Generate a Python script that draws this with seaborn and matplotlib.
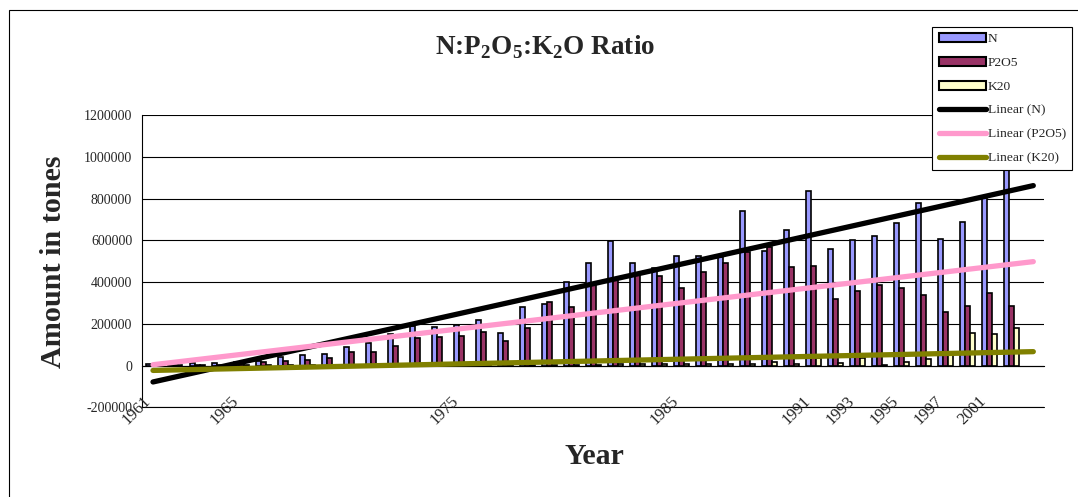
import numpy as np
import pandas as pd
import matplotlib
matplotlib.use("Agg")
import matplotlib.pyplot as plt
import seaborn as sns
from matplotlib.patches import Patch, Rectangle
from matplotlib.lines import Line2D

# Category labels along the year axis (blank where the sheet had no label)
tick_labels = ["1961", "", "", "", "1965", "", "", "", "", "",
               "", "", "", "", "1975", "", "", "", "", "",
               "", "", "", "", "1985", "", "", "", "", "",
               "1991", "", "1993", "", "1995", "", "1997", "", "2001", "",
               ""]

# Fertilizer consumption in tones
n_values = [6000, 4000, 11000, 14000, 15000, 24000, 42000, 49000, 57000, 90000,
            107000, 150000, 190000, 187000, 193000, 219000, 158000, 280000, 296000, 399000,
            490000, 599000, 490000, 466000, 527000, 527000, 522000, 738000, 550000, 650000,
            834000, 559000, 602000, 621000, 682000, 778000, 607000, 690000, 802000, 980000,
            np.nan]
p2o5_values = [2000, 2000, 5000, 5000, 7000, 19000, 23000, 27000, 35000, 66000,
               65000, 93000, 131000, 139000, 144000, 163000, 118000, 179000, 307000, 280000,
               387000, 410000, 434000, 431000, 374000, 446000, 490000, 546000, 566000, 471000,
               479000, 320000, 358000, 387000, 374000, 336000, 259000, 286000, 347000, 287000,
               np.nan]
k20_values = [1000, 1000, 1500, 1500, 2000, 2000, 2500, 2500, 3000, 3000,
              3000, 3500, 3500, 4000, 4000, 4000, 3000, 4000, 5000, 5000,
              5000, 6000, 6000, 7000, 6000, 8000, 7000, 8000, 17000, 10000,
              35000, 12000, 38000, 4000, 19000, 34000, 67000, 158000, 150000, 179000,
              np.nan]

series_names = ["N", "P2O5", "K20"]
bar_colors = ["#9999FF", "#993366", "#FFFFCC"]
trend_colors = ["#000000", "#FF99CC", "#808000"]

sns.set_theme(style="white")
plt.rcParams["font.family"] = ["Liberation Serif", "DejaVu Serif"]
plt.rcParams["mathtext.fontset"] = "custom"
plt.rcParams["mathtext.rm"] = "Liberation Serif"
plt.rcParams["mathtext.bf"] = "Liberation Serif:bold"

W, H = 1078, 497
fig = plt.figure(figsize=(W / 100, H / 100), dpi=100)
fig.patch.set_facecolor("white")
ax = fig.add_axes([142 / W, 1 - 407.4 / H, 902.3 / W, 292.4 / H])

positions = np.arange(len(tick_labels))
df = pd.DataFrame({"pos": positions, "N": n_values, "P2O5": p2o5_values, "K20": k20_values})
long_df = df.melt(id_vars="pos", var_name="series", value_name="value")

sns.barplot(data=long_df, x="pos", y="value", hue="series", order=list(positions),
            hue_order=series_names, palette=bar_colors, saturation=1, width=0.68, gap=0,
            edgecolor="black", linewidth=1.2, errorbar=None, legend=False, ax=ax, zorder=3)

# Linear trend lines fitted to each series
for vals, color in zip([n_values, p2o5_values, k20_values], trend_colors):
    vals = np.asarray(vals, dtype=float)
    ok = ~np.isnan(vals)
    coef = np.polyfit(positions[ok], vals[ok], 1)
    ax.plot(positions, np.polyval(coef, positions), color=color, lw=3.8,
            solid_capstyle="round", zorder=4)

ymin, ymax = -200000, 1200000
ax.set_xlim(-0.5, len(positions) - 0.5)
ax.set_ylim(ymin, ymax)
yticks = list(range(ymin, ymax + 1, 200000))
ax.set_yticks(yticks)
ax.set_yticklabels([str(v) for v in yticks], fontsize=10)
ax.yaxis.grid(True, color="black", lw=0.8)
ax.axhline(ymin, color="black", lw=0.8, clip_on=False, zorder=1)
ax.set_axisbelow(True)
ax.set_xlabel("")
ax.set_ylabel("")

for side in ["top", "right"]:
    ax.spines[side].set_visible(False)
ax.spines["left"].set_color("black")
ax.spines["left"].set_linewidth(0.8)
ax.spines["bottom"].set_position(("data", 0))
ax.spines["bottom"].set_color("black")
ax.spines["bottom"].set_linewidth(0.8)

ax.set_xticks(positions)
ax.set_xticklabels([""] * len(positions))
ax.set_xticks(np.arange(-0.5, len(positions), 1.0), minor=True)
ax.tick_params(axis="x", which="major", length=0)
ax.tick_params(axis="x", which="minor", length=3.6, width=0.8, color="black", direction="out")
ax.tick_params(axis="y", length=3.6, width=0.8, color="black", direction="out", pad=3.5)

for i, lab in enumerate(tick_labels):
    if lab:
        ax.annotate(lab, xy=(i, ymin), xycoords="data", xytext=(-3.6, 6.0),
                    textcoords="offset points", rotation=45, rotation_mode="anchor",
                    ha="right", va="center", fontsize=12, annotation_clip=False)

fig.text(545 / W, 1 - 47 / H, r"N:P$_\mathbf{2}$O$_\mathbf{5}$:K$_\mathbf{2}$O Ratio",
         fontsize=19.5, fontweight="bold", ha="center", va="center")
fig.text(54 / W, 1 - 262 / H, "Amount in tones", rotation=90, fontsize=21.7,
         fontweight="bold", ha="center", va="center")
fig.text(594 / W, 1 - 457 / H, "Year", fontsize=21.5, fontweight="bold",
         ha="center", va="center")

handles = [Patch(facecolor=c, edgecolor="black", linewidth=1.5) for c in bar_colors]
handles += [Line2D([0], [0], color=c, lw=3.8, solid_capstyle="round") for c in trend_colors]
labels = series_names + [f"Linear ({s})" for s in series_names]
leg = fig.legend(handles, labels, loc="upper right", bbox_to_anchor=(1072 / W, 1 - 27 / H),
                 frameon=True, fancybox=False, edgecolor="black", framealpha=1,
                 fontsize=9.7, handlelength=3.5, handleheight=0.7, labelspacing=0.84,
                 handletextpad=0.15, borderpad=0.45, borderaxespad=0)
leg.get_frame().set_linewidth(0.8)

# Chart-area frame
fig.patches.append(Rectangle((8.5 / W, -0.1), 1.2, 1 - 10 / H + 0.1, fill=False,
                             edgecolor="black", lw=0.8, transform=fig.transFigure,
                             clip_on=False))

fig.savefig("out.png", dpi=100)
